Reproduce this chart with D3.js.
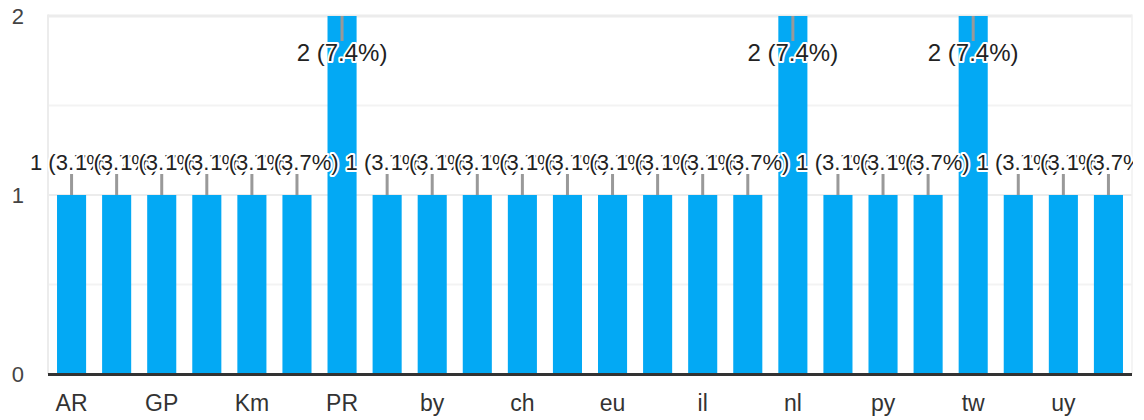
<!DOCTYPE html>
<html>
<head>
<meta charset="utf-8">
<script src="https://cdn.jsdelivr.net/npm/d3@7"></script>
<style>
  body { margin: 0; background: #fff; }
  svg { font-family: Arial, "Liberation Sans", sans-serif; display: block; }
</style>
</head>
<body>
<div id="chart"></div>
<script>
// category codes (only every other one gets a tick label)
const categories = ["AR", "BR", "GP", "IN", "Km", "Mx", "PR", "US", "by", "ca", "ch", "de",
                    "eu", "fr", "il", "jp", "nl", "pt", "py", "ru", "tw", "us", "uy", "vn"];
const counts = [1, 1, 1, 1, 1, 1, 2, 1, 1, 1, 1, 1, 1, 1, 1, 1, 2, 1, 1, 1, 2, 1, 1, 1];
const yTicks = [0, 1, 2];
const yGrid = [0.5, 1, 1.5, 2];

const width = 1133;
const height = 420;
const plotLeft = 49, plotRight = 1131, plotTop = 16, plotBottom = 374;

const total = d3.sum(counts);

let svg = d3.select("#chart")
    .append("svg")
    .attr("width", width)
    .attr("height", height)
    .style("overflow", "hidden");

let x = d3.scaleBand()
    .domain(categories)
    .range([plotLeft, plotRight])
    .paddingInner(0.355)
    .paddingOuter(0.178);

let y = d3.scaleLinear()
    .domain([0, 2])
    .range([plotBottom, plotTop]);

// plot frame + gridlines
svg.append("g")
    .selectAll("line")
    .data(yGrid)
    .enter()
    .append("line")
    .attr("x1", plotLeft - 1)
    .attr("x2", plotRight + 1)
    .attr("y1", d => y(d))
    .attr("y2", d => y(d))
    .attr("stroke", d => d % 1 === 0 ? "#ececec" : "#f3f3f3")
    .attr("stroke-width", d => d === 2 ? 3 : 2);

svg.append("line")
    .attr("x1", plotLeft - 1).attr("x2", plotLeft - 1)
    .attr("y1", plotTop - 1.5).attr("y2", plotBottom)
    .attr("stroke", "#ececec").attr("stroke-width", 2);

svg.append("line")
    .attr("x1", plotRight + 1).attr("x2", plotRight + 1)
    .attr("y1", plotTop - 1.5).attr("y2", plotBottom)
    .attr("stroke", "#f0f0f0").attr("stroke-width", 1.5);

// bars
svg.append("g")
    .selectAll("rect")
    .data(counts)
    .enter()
    .append("rect")
    .attr("x", (d, i) => x(categories[i]))
    .attr("y", d => y(d))
    .attr("width", x.bandwidth())
    .attr("height", d => y(0) - y(d))
    .attr("fill", "#03A9F4");

// baseline
svg.append("line")
    .attr("x1", plotLeft - 1)
    .attr("x2", plotRight + 1)
    .attr("y1", y(0) + 0.5)
    .attr("y2", y(0) + 0.5)
    .attr("stroke", "#333")
    .attr("stroke-width", 3);

// y tick labels
svg.append("g")
    .selectAll("text")
    .data(yTicks)
    .enter()
    .append("text")
    .attr("x", 24)
    .attr("y", d => y(d) + 8)
    .attr("text-anchor", "end")
    .attr("font-size", 22)
    .attr("fill", "#444")
    .text(d => d);

// x tick labels, every other category
svg.append("g")
    .selectAll("text")
    .data(categories.filter((c, i) => i % 2 === 0))
    .enter()
    .append("text")
    .attr("x", d => x(d) + x.bandwidth() / 2)
    .attr("y", 411)
    .attr("text-anchor", "middle")
    .attr("font-size", 23)
    .attr("fill", "#333")
    .text(d => d);

// data labels with leader lines
const fmt = d3.format(".1f");
let labels = svg.append("g");

counts.forEach((d, i) => {
    let cx = x(categories[i]) + x.bandwidth() / 2;
    let barTop = y(d);
    let inside = barTop - 45 < plotTop;
    let lineEnd = inside ? barTop + 25 : barTop - 21;
    let baseY = inside ? barTop + 45 : barTop - 25;

    labels.append("line")
        .attr("x1", cx).attr("x2", cx)
        .attr("y1", barTop).attr("y2", lineEnd)
        .attr("stroke", "#999")
        .attr("stroke-width", 3);

    labels.append("text")
        .attr("x", cx)
        .attr("y", baseY)
        .attr("text-anchor", "middle")
        .attr("font-size", d === 2 ? 24 : 22)
        .attr("fill", "#222")
        .attr("stroke", "#fff")
        .attr("stroke-width", 4)
        .attr("stroke-linejoin", "round")
        .attr("paint-order", "stroke")
        .text(d + " (" + fmt(d / total * 100) + "%)");
});
</script>
</body>
</html>
